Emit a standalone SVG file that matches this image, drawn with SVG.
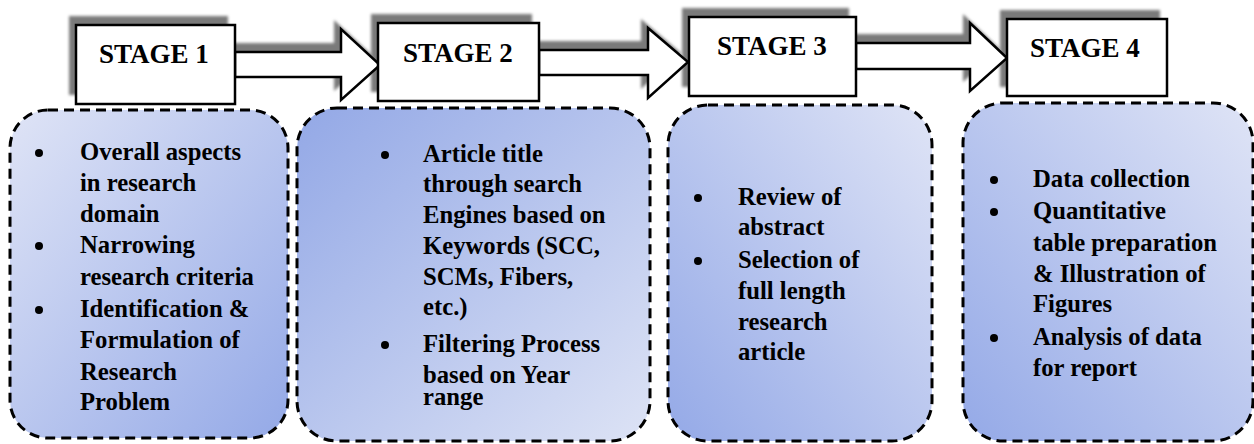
<svg xmlns="http://www.w3.org/2000/svg" width="1254" height="444" viewBox="0 0 1254 444">
<style>
.stage{fill:#fff;stroke:#000;stroke-width:2.5}
.sh{fill:#7a7a7a;filter:url(#blur)}
.st{font-family:"Liberation Serif","Times New Roman",serif;font-weight:bold;font-size:27px;fill:#000}
.card{stroke:#000;stroke-width:3;stroke-dasharray:10 6}
.t{font-family:"Liberation Serif","Times New Roman",serif;font-weight:bold;font-size:24.7px;fill:#000}
.b{fill:#000}
</style>
<defs>
<filter id="blur" x="-10%" y="-30%" width="120%" height="160%"><feGaussianBlur stdDeviation="1.8"/></filter>
<linearGradient id="gTL" x1="0" y1="0" x2="1" y2="1"><stop offset="0" stop-color="#dfe4f6"/><stop offset="1" stop-color="#94a9e7"/></linearGradient>
<linearGradient id="gBR" x1="0" y1="0" x2="1" y2="1"><stop offset="0" stop-color="#93a8e6"/><stop offset="1" stop-color="#dde3f5"/></linearGradient>
<linearGradient id="gTR" x1="1" y1="0" x2="0" y2="1"><stop offset="0" stop-color="#dfe4f6"/><stop offset="1" stop-color="#94a9e7"/></linearGradient>
</defs>
<rect width="1254" height="444" fill="#fff"/>

<!-- shadows -->
<g id="shadows" transform="translate(-7,-9)">
<rect class="sh" x="76" y="25" width="159" height="79"/>
<polygon class="sh" points="235,52 341,52 341,29 380,65 341,100 341,77 235,77"/>
<rect class="sh" x="378" y="23" width="161" height="78"/>
<polygon class="sh" points="539,50 648,50 648,28 688,62 648,98 648,75 539,75"/>
<rect class="sh" x="689" y="17" width="167" height="79"/>
<polygon class="sh" points="856,43 970,43 970,23 1007,58 970,91 970,69 856,69"/>
<rect class="sh" x="1007" y="19" width="160" height="77"/>
</g>

<g id="connectors">
<polygon class="stage" points="235,52 341,52 341,29 380,65 341,100 341,77 235,77"/>
<polygon class="stage" points="539,50 648,50 648,28 688,62 648,98 648,75 539,75"/>
<polygon class="stage" points="856,43 970,43 970,23 1007,58 970,91 970,69 856,69"/>
</g>

<g id="stage1">
<rect class="stage" x="76" y="25" width="159" height="79"/>
<text class="st" x="99" y="63">STAGE 1</text>
</g>
<g id="stage2">
<rect class="stage" x="378" y="23" width="161" height="78"/>
<text class="st" x="403" y="62">STAGE 2</text>
</g>
<g id="stage3">
<rect class="stage" x="689" y="17" width="167" height="79"/>
<text class="st" x="717" y="55">STAGE 3</text>
</g>
<g id="stage4">
<rect class="stage" x="1007" y="19" width="160" height="77"/>
<text class="st" x="1030" y="57">STAGE 4</text>
</g>

<g id="card1">
<rect class="card" x="10" y="110" width="278" height="328" rx="38" fill="url(#gTL)"/>
<circle class="b" cx="39" cy="153" r="4"/>
<circle class="b" cx="39" cy="246" r="4"/>
<circle class="b" cx="39" cy="310" r="4"/>
<text class="t" x="80" y="160">Overall aspects</text>
<text class="t" x="80" y="191">in research</text>
<text class="t" x="80" y="222">domain</text>
<text class="t" x="80" y="253">Narrowing</text>
<text class="t" x="80" y="285">research criteria</text>
<text class="t" x="80" y="317">Identification &amp;</text>
<text class="t" x="80" y="348">Formulation of</text>
<text class="t" x="80" y="380">Research</text>
<text class="t" x="80" y="410">Problem</text>
</g>

<g id="card2">
<rect class="card" x="297" y="108" width="353" height="333" rx="40" fill="url(#gBR)"/>
<circle class="b" cx="385" cy="155" r="4"/>
<circle class="b" cx="385" cy="345" r="4"/>
<text class="t" x="423" y="162">Article title</text>
<text class="t" x="423" y="192">through search</text>
<text class="t" x="423" y="223">Engines based on</text>
<text class="t" x="423" y="254">Keywords (SCC,</text>
<text class="t" x="423" y="285">SCMs, Fibers,</text>
<text class="t" x="423" y="315">etc.)</text>
<text class="t" x="423" y="352">Filtering Process</text>
<text class="t" x="423" y="383">based on Year</text>
<text class="t" x="423" y="405">range</text>
</g>

<g id="card3">
<rect class="card" x="668" y="105" width="264" height="336" rx="40" fill="url(#gTR)"/>
<circle class="b" cx="698" cy="198" r="4"/>
<circle class="b" cx="698" cy="261" r="4"/>
<text class="t" x="738" y="205">Review of</text>
<text class="t" x="738" y="235">abstract</text>
<text class="t" x="738" y="268">Selection of</text>
<text class="t" x="738" y="299">full length</text>
<text class="t" x="738" y="330">research</text>
<text class="t" x="738" y="360">article</text>
</g>

<g id="card4">
<rect class="card" x="963" y="103" width="290" height="338" rx="40" fill="url(#gTR)"/>
<circle class="b" cx="994" cy="180" r="4"/>
<circle class="b" cx="994" cy="212" r="4"/>
<circle class="b" cx="994" cy="338" r="4"/>
<text class="t" x="1033" y="187">Data collection</text>
<text class="t" x="1033" y="219">Quantitative</text>
<text class="t" x="1033" y="251">table preparation</text>
<text class="t" x="1033" y="282">&amp; Illustration of</text>
<text class="t" x="1033" y="312">Figures</text>
<text class="t" x="1033" y="345">Analysis of data</text>
<text class="t" x="1033" y="376">for report</text>
</g>
</svg>
